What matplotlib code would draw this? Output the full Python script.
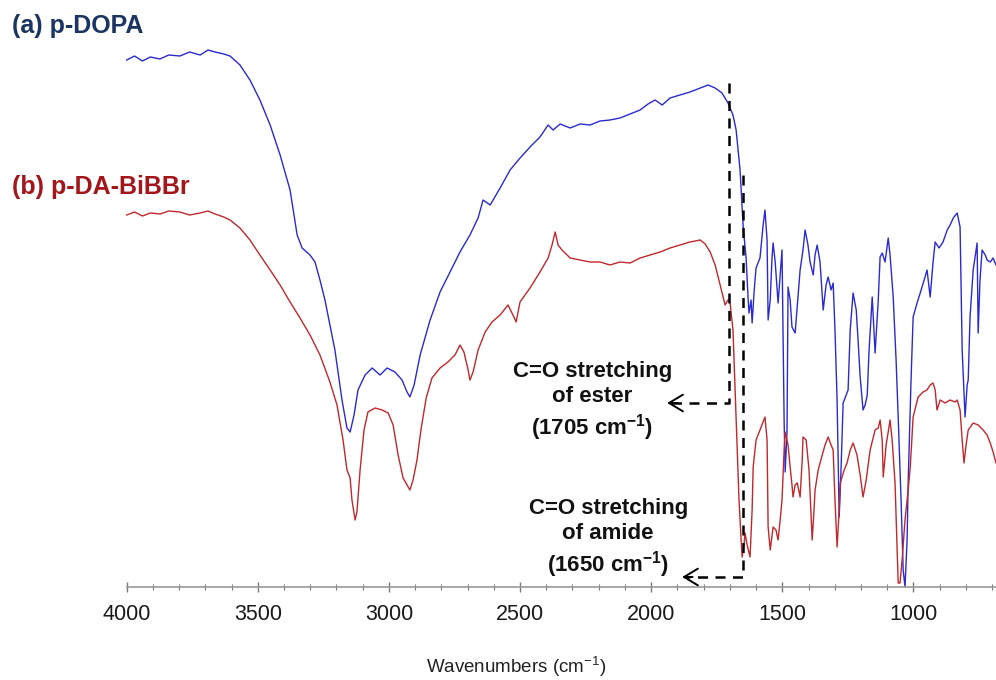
import numpy as np
import matplotlib
matplotlib.use('Agg')
import matplotlib.pyplot as plt
from matplotlib.ticker import MultipleLocator

plt.rcParams['font.family'] = ['Liberation Sans', 'DejaVu Sans']
plt.rcParams['mathtext.fontset'] = 'custom'
plt.rcParams['mathtext.rm'] = 'Liberation Sans'
plt.rcParams['mathtext.bf'] = 'Liberation Sans:bold'

# FTIR spectra (wavenumber in cm-1, intensity in arbitrary units)
dopa_wn = [4000, 3970, 3940, 3910, 3873, 3840, 3797, 3760, 3720, 3690, 3663, 3630, 3606,
           3568, 3530, 3492, 3453, 3415, 3377, 3350, 3331, 3301, 3282, 3263, 3244, 3206,
           3179, 3160, 3148, 3133, 3118, 3091, 3064, 3034, 3007, 2977, 2950, 2931, 2920,
           2904, 2881, 2843, 2805, 2767, 2729, 2691, 2660, 2641, 2614, 2576, 2538, 2500,
           2462, 2424, 2393, 2374, 2347, 2309, 2271, 2233, 2195, 2157, 2119, 2080, 2042,
           2012, 1985, 1958, 1928, 1890, 1852, 1813, 1783, 1756, 1730, 1707, 1688, 1676,
           1661, 1649, 1638, 1630, 1627, 1619, 1615, 1607, 1600, 1585, 1573, 1566, 1558,
           1554, 1546, 1539, 1535, 1527, 1516, 1501, 1493, 1489, 1482, 1478, 1470, 1463,
           1451, 1432, 1421, 1413, 1402, 1394, 1382, 1375, 1367, 1356, 1344, 1333, 1325,
           1314, 1306, 1299, 1291, 1283, 1276, 1268, 1249, 1241, 1230, 1218, 1211, 1203,
           1192, 1184, 1176, 1169, 1157, 1146, 1134, 1127, 1119, 1108, 1096, 1089, 1077,
           1066, 1058, 1047, 1039, 1032, 1024, 1020, 1009, 1001, 986, 974, 959, 948, 936,
           925, 917, 902, 887, 871, 860, 848, 833, 822, 818, 814, 803, 795, 791, 784, 772,
           757, 753, 746, 738, 726, 719, 707, 696, 685]
dopa_int = [527, 531, 526, 530, 528, 532, 531, 535, 532, 537, 535, 533, 531,
            522, 507, 487, 462, 432, 397, 352, 339, 332, 325, 307, 287, 237,
            187, 159, 155, 172, 197, 212, 219, 212, 219, 215, 207, 195, 190,
            202, 232, 267, 295, 315, 335, 352, 369, 387, 382, 399, 417, 429,
            440, 450, 462, 457, 463, 459, 463, 462, 466, 467, 469, 473, 477,
            483, 487, 482, 489, 492, 495, 499, 502, 499, 494, 484, 472, 457,
            417, 360, 329, 287, 274, 287, 264, 297, 319, 329, 362, 377, 347,
            267, 287, 330, 344, 325, 284, 337, 167, 115, 155, 300, 287, 260,
            254, 317, 337, 357, 342, 325, 312, 332, 342, 325, 277, 302, 310,
            297, 304, 257, 187, 70, 117, 184, 197, 257, 294, 277, 247, 210,
            177, 182, 192, 237, 290, 234, 287, 330, 334, 325, 349, 332, 290,
            227, 170, 87, 17, 0, 47, 104, 207, 270, 284, 294, 307, 317, 290,
            325, 345, 339, 345, 357, 362, 369, 374, 360, 297, 237, 170, 202, 207, 270, 317,
            344, 254, 307, 337, 332, 327, 325, 329, 322]

dabibbr_wn = [4000, 3970, 3940, 3910, 3873, 3840, 3797, 3760, 3720, 3690, 3663, 3630, 3606,
              3568, 3530, 3492, 3453, 3415, 3377, 3339, 3301, 3263, 3225, 3198, 3175, 3160,
              3148, 3141, 3129, 3122, 3110, 3095, 3080, 3053, 3026, 3003, 2984, 2965, 2946,
              2931, 2920, 2908, 2893, 2878, 2858, 2836, 2805, 2775, 2748, 2729, 2714, 2698,
              2691, 2679, 2660, 2633, 2607, 2576, 2546, 2527, 2515, 2500, 2462, 2424, 2393,
              2378, 2366, 2355, 2340, 2309, 2271, 2233, 2195, 2157, 2119, 2080, 2042, 2004,
              1966, 1928, 1890, 1852, 1813, 1794, 1775, 1756, 1737, 1718, 1707, 1699, 1688,
              1676, 1665, 1657, 1653, 1646, 1642, 1634, 1623, 1615, 1611, 1600, 1585, 1566,
              1558, 1554, 1546, 1539, 1535, 1524, 1516, 1508, 1501, 1493, 1489, 1478, 1470,
              1463, 1459, 1451, 1443, 1432, 1424, 1421, 1409, 1398, 1386, 1379, 1375, 1363,
              1356, 1337, 1325, 1314, 1306, 1299, 1291, 1283, 1279, 1264, 1253, 1241, 1230,
              1215, 1203, 1192, 1180, 1165, 1146, 1134, 1127, 1119, 1115, 1104, 1089, 1081,
              1070, 1062, 1058, 1051, 1043, 1032, 1020, 1012, 1001, 982, 963, 948, 936, 925,
              917, 910, 898, 879, 860, 841, 833, 822, 814, 807, 799, 791, 772, 753, 734, 719,
              707, 696, 685]
dabibbr_int = [372, 375, 371, 374, 373, 376, 375, 372, 374, 376, 373, 370, 367,
               359, 347, 332, 317, 302, 285, 269, 252, 232, 205, 182, 147, 117,
               109, 87, 67, 75, 117, 157, 175, 179, 177, 174, 162, 132, 109,
               102, 97, 107, 127, 157, 189, 209, 219, 225, 232, 242, 235, 217,
               207, 215, 237, 255, 265, 272, 282, 272, 265, 285, 299, 315, 329,
               342, 355, 342, 337, 329, 327, 325, 325, 322, 325, 324, 329, 332,
               335, 339, 342, 345, 347, 343, 335, 322, 302, 282, 287, 284, 257,
               167, 87, 47, 30, 42, 54, 42, 30, 77, 120, 147, 157, 170,
               147, 60, 37, 52, 60, 57, 47, 67, 87, 137, 155, 142, 120,
               102, 90, 102, 104, 90, 127, 150, 147, 117, 47, 77, 97, 117,
               124, 142, 150, 142, 137, 87, 40, 77, 104, 117, 124, 137, 144,
               132, 112, 90, 107, 137, 157, 159, 167, 147, 110, 142, 167, 147,
               104, 37, 4, 4, 27, 67, 97, 120, 170, 190, 195, 197, 202, 204,
               197, 177, 187, 184, 187, 185, 187, 177, 147, 124, 142, 157, 164, 162, 157, 152,
               144, 135, 124]

# marked bands: guide top, arrow level and arrow tip (wavenumber)
bands = [1705, 1650]
band_top = [504, 412]
band_arrow_y = [184, 10]
band_arrow_end = [1939, 1882]
band_labels = ['C=O stretching\nof ester\n(1705 cm$^{\\mathbf{-1}}$)',
               'C=O stretching\nof amide\n(1650 cm$^{\\mathbf{-1}}$)']
label_pos = [(2225, 185), (2164, 48)]

major_ticks = [4000, 3500, 3000, 2500, 2000, 1500, 1000]

fig = plt.figure(figsize=(9.96, 6.8), dpi=100)
ax = fig.add_axes([126.7 / 996, 93 / 680, 869.3 / 996, 587 / 680])

ax.plot(dopa_wn, dopa_int, color='#2a2ad4', lw=1.0, clip_on=False)
ax.plot(dabibbr_wn, dabibbr_int, color='#c0282c', lw=1.0, clip_on=False)

ax.set_xlim(4000, 685)
ax.set_ylim(0, 587)

# x axis runs high -> low, so "towards the text" means larger wavenumbers
for wn, top, ay, aend in zip(bands, band_top, band_arrow_y, band_arrow_end):
    ax.plot([wn, wn, aend - 15], [top, ay, ay], color='k', lw=1.8,
            linestyle=(0, (4, 3)), clip_on=False)
    ax.annotate('', xy=(aend, ay), xytext=(aend - 40, ay),
                arrowprops=dict(arrowstyle='->, head_length=0.5, head_width=0.3',
                                color='k', lw=1.4, mutation_scale=20,
                                shrinkA=0, shrinkB=0))

for txt, (tx, ty) in zip(band_labels, label_pos):
    ax.text(tx, ty, txt, ha='center', va='center', fontsize=16,
            fontweight='bold', linespacing=1.22, color='#111111')

# only the wavenumber axis is drawn
for side in ['left', 'right', 'top']:
    ax.spines[side].set_visible(False)
ax.spines['bottom'].set_color('#9a9a9a')
ax.spines['bottom'].set_linewidth(1.2)
ax.set_yticks([])
ax.set_xticks(major_ticks)
ax.xaxis.set_minor_locator(MultipleLocator(100))
ax.tick_params(axis='x', which='major', direction='inout', length=7, width=1,
               color='#7a7a7a', labelsize=15.5, labelcolor='#1a1a1a', pad=9)
ax.tick_params(axis='x', which='minor', direction='inout', length=4, width=0.8,
               color='#7a7a7a')

fig.text(516 / 996, 1 - 667 / 680, 'Wavenumbers (cm$^{-1}$)', ha='center',
         va='center', fontsize=13.5, color='#222222')

fig.text(12 / 996, 1 - 26 / 680, '(a) p-DOPA', ha='left', va='center',
         fontsize=18, fontweight='bold', color='#1c3461')
fig.text(12 / 996, 1 - 187 / 680, '(b) p-DA-BiBBr', ha='left', va='center',
         fontsize=18, fontweight='bold', color='#a3161c')

fig.savefig('out.png', dpi=100)
